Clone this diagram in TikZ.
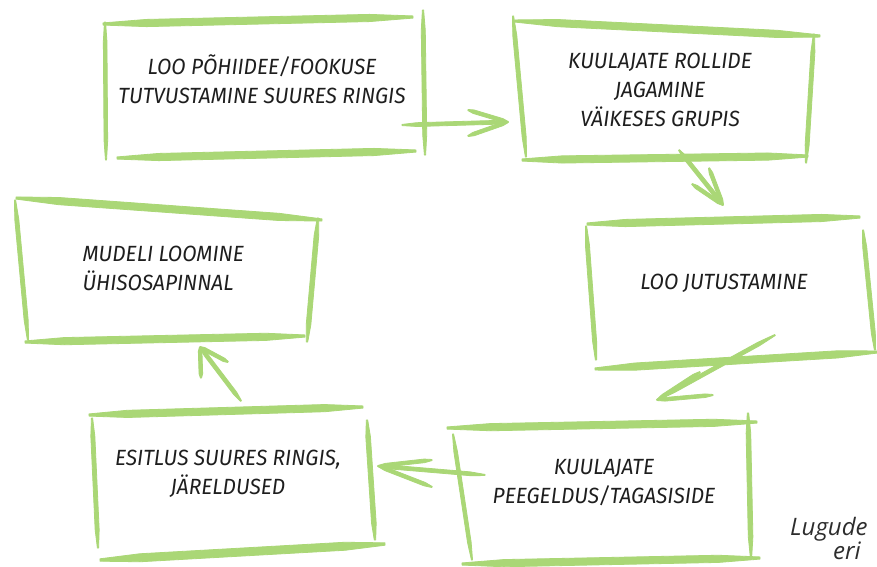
\documentclass[tikz,border=0pt]{standalone}
\usepackage{fontspec}
\usetikzlibrary{calc}
\newfontfamily\handfont{Fira Sans}[FakeStretch=0.95]
\newfontfamily\notefont{Open Sans}
\definecolor{brushgreen}{RGB}{170,215,118}
\definecolor{inkdark}{RGB}{30,30,30}
\definecolor{notegray}{RGB}{45,45,45}
\tikzset{
  brushline/.style={fill=brushgreen, draw=brushgreen, line width=0.8pt, line join=round},
  steptext/.style={font=\handfont\itshape\fontsize{22}{29}\selectfont, text=inkdark, align=center},
  notetext/.style={font=\notefont\itshape\fontsize{24}{29}\selectfont, text=notegray, anchor=base west, inner sep=0pt}
}
% one tapered brush stroke from #1 to #2, half width #3
\newcommand\brush[3]{%
  \filldraw[brushline]
    ($#1!0.3*#3!90:#2$)
    -- ($#1!0.14!#2!#3!90:#2$)
    -- ($#2!0.14!#1!#3!-90:#1$)
    -- ($#2!0.3*#3!-90:#1$)
    -- ($#2!0.3*#3!90:#1$)
    -- ($#2!0.14!#1!#3!90:#1$)
    -- ($#1!0.14!#2!#3!-90:#2$)
    -- ($#1!0.3*#3!-90:#2$) -- cycle;
}
% an open chevron arrow drawn with three brush strokes
\newcommand\sketcharrow[4]{%
  \brush{(#1)}{(#2)}{1.9pt}
  \brush{(#3)}{(#2)}{1.8pt}
  \brush{(#4)}{(#2)}{1.8pt}
}
\begin{document}
\begin{tikzpicture}[x=1pt, y=-1pt]
\useasboundingbox[fill=white] (0,0) rectangle (877,566);

% box: introduction of the main idea
\brush{(103,24)}{(413,17)}{3.6pt}
\brush{(105,22)}{(106,160)}{1.8pt}
\brush{(423,10)}{(425,155)}{2pt}
\brush{(117,158)}{(416,151)}{3.6pt}
\node[steptext] (intro) at (262,79) {LOO PÕHIIDEE/FOOKUSE\\TUTVUSTAMINE SUURES RINGIS};

% box: sharing the listener roles
\brush{(515,21)}{(820,36)}{3.6pt}
\brush{(513,16)}{(526,157)}{2pt}
\brush{(814,34)}{(806,163)}{2pt}
\brush{(522,160)}{(808,156)}{3.6pt}
\node[steptext] (roles) at (660,90) {KUULAJATE ROLLIDE\\JAGAMINE\\VÄIKESES GRUPIS};

% box: telling the story
\brush{(587,224)}{(860,217)}{3.6pt}
\brush{(586,226)}{(596,360)}{2pt}
\brush{(863,230)}{(875,350)}{2pt}
\brush{(595,369)}{(877,352)}{3.6pt}
\node[steptext] (telling) at (724,283) {LOO JUTUSTAMINE};

% box: feedback from the listeners
\brush{(447,428)}{(757,422)}{3.6pt}
\brush{(453,434)}{(472,560)}{1.8pt}
\brush{(748,413)}{(751,557)}{2.3pt}
\brush{(462,564)}{(760,558)}{3.6pt}
\node[steptext] (feedback) at (604,483) {KUULAJATE\\PEEGELDUS/TAGASISIDE};

% box: presentation and conclusions
\brush{(89,415)}{(363,407)}{3.6pt}
\brush{(92,418)}{(98,548)}{2pt}
\brush{(367,420)}{(375,540)}{2.3pt}
\brush{(100,560)}{(385,544)}{4pt}
\node[steptext] (present) at (228,474) {ESITLUS SUURES RINGIS,\\JÄRELDUSED};

% box: building the shared model
\brush{(16,198)}{(322,220)}{3.6pt}
\brush{(15,200)}{(28,340)}{2pt}
\brush{(318,218)}{(307,342)}{2.3pt}
\brush{(25,342)}{(305,336)}{3.6pt}
\node[steptext, align=left, anchor=west] (model) at (79,268) {MUDELI LOOMINE\\ÜHISOSAPINNAL};

% connector end points
\coordinate (a1s) at (402,125); \coordinate (a1e) at (508,122);
\coordinate (a1u) at (468,110); \coordinate (a1d) at (468,136);
\coordinate (a2s) at (679,150); \coordinate (a2e) at (723,205);
\coordinate (a2u) at (709,168); \coordinate (a2d) at (692,184);
\coordinate (a3s) at (775,335); \coordinate (a3e) at (657,400);
\coordinate (a3u) at (700,372); \coordinate (a3d) at (713,395);
\coordinate (a4s) at (485,475); \coordinate (a4e) at (378,466);
\coordinate (a4u) at (432,460); \coordinate (a4d) at (432,487);
\coordinate (a5s) at (241,401); \coordinate (a5e) at (200,347);
\coordinate (a5u) at (201,378); \coordinate (a5d) at (228,362);

\sketcharrow{a1s}{a1e}{a1u}{a1d}
\sketcharrow{a2s}{a2e}{a2u}{a2d}
\sketcharrow{a3s}{a3e}{a3u}{a3d}
\sketcharrow{a4s}{a4e}{a4u}{a4d}
\sketcharrow{a5s}{a5e}{a5u}{a5d}

% caption running off the lower right edge
\node[notetext] (note1) at (790,535) {Lugude};
\node[notetext] (note2) at (833,559) {eri};
\end{tikzpicture}
\end{document}
